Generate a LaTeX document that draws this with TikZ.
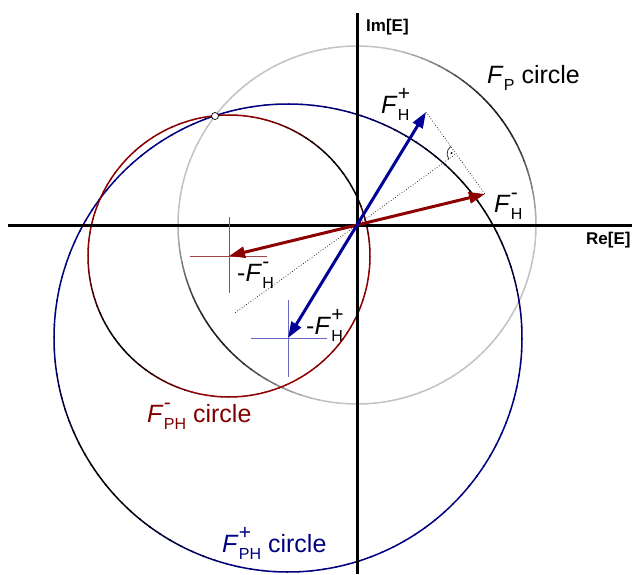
\documentclass[tikz,border=0pt]{standalone}
\usepackage{fontspec}
\setmainfont{Liberation Sans}
\usetikzlibrary{arrows.meta,calc}
\definecolor{navyc}{RGB}{0,0,128}
\definecolor{vblue}{RGB}{0,0,150}
\definecolor{vred}{RGB}{140,0,0}
\definecolor{redc}{RGB}{128,0,0}
\definecolor{circred}{RGB}{140,0,0}
\definecolor{lgray}{RGB}{195,195,195}
\definecolor{dgray}{RGB}{25,25,25}
\definecolor{crossred}{RGB}{165,70,70}
\definecolor{crossblue}{RGB}{105,105,195}
\newcommand{\Fsym}[2]{\textit{F}\kern0.3pt\makebox[0pt][l]{\raisebox{0.5em}{\fontsize{21}{21}\selectfont #1}}\raisebox{-0.3em}{\fontsize{16}{16}\selectfont #2}}
\newcommand{\gradcircle}[4]{%
  \foreach \a in {0,3,...,357}{%
    \pgfmathtruncatemacro\p{100*(max(0,cos(2*(\a+1.5-322))))^2}%
    \draw[circline, draw=#4!\p!#3] ($(#1)+(\a:#2)$) arc[start angle=\a, end angle=\a+3.4, radius=#2];
  }}
\begin{document}
\begin{tikzpicture}[x=1pt,y=-1pt,
  circline/.style={line width=1.5pt},
  axis/.style={line width=3pt,black},
  vecb/.style={line width=3pt,vblue,-{Triangle[length=16pt,width=11pt]}},
  vecr/.style={line width=3pt,vred,-{Triangle[length=16pt,width=11pt]}},
  helper/.style={dotted,line width=0.7pt,black},
  lbl/.style={anchor=base west,inner sep=0pt,font=\fontsize{25}{30}\selectfont},
  axlbl/.style={anchor=base west,inner sep=0pt,font=\bfseries\fontsize{17}{20}\selectfont},
  crossr/.style={line width=1pt,crossred},
  crossb/.style={line width=1pt,crossblue}]
\useasboundingbox (0,0) rectangle (632,574);
% key points
\coordinate (O) at (357,225);
\coordinate (Tp) at (426,112);
\coordinate (Tm) at (485,194);
\coordinate (Mp) at ($(O)!-1!(Tp)$);
\coordinate (Mm) at ($(O)!-1!(Tm)$);
\coordinate (Ft) at ($(Tp)!(O)!(Tm)$);
\coordinate (De) at ($(O)!-1.23!(Ft)$);
% circles
\gradcircle{O}{179}{lgray}{dgray}
\gradcircle{Mp}{234}{navyc}{black}
\gradcircle{Mm}{141}{circred}{black}
% axes
\coordinate (axL) at (8,225);
\coordinate (axR) at (632,225);
\coordinate (axT) at (357,13);
\coordinate (axB) at (357,574);
\draw[axis] (axL) -- (axR);
\draw[axis] (axT) -- (axB);
% crosses
\coordinate (cr1) at ($(Mm)+(-39,0)$); \coordinate (cr2) at ($(Mm)+(38,0)$);
\coordinate (cr3) at ($(Mm)+(0,-39)$); \coordinate (cr4) at ($(Mm)+(0,37)$);
\draw[crossr] (cr1) -- (cr2);
\draw[crossr] (cr3) -- (cr4);
\coordinate (cb1) at ($(Mp)+(-37,0)$); \coordinate (cb2) at ($(Mp)+(39,0)$);
\coordinate (cb3) at ($(Mp)+(0,-38)$); \coordinate (cb4) at ($(Mp)+(0,39)$);
\draw[crossb] (cb1) -- (cb2);
\draw[crossb] (cb3) -- (cb4);
% helper lines
\draw[helper] (Tp) -- (Tm);
\draw[helper] (De) -- (Ft);
% right-angle mark
\draw[line width=0.6pt] ($(Ft)+(144.4:9)$) arc[start angle=144.4, end angle=234.5, radius=9];
\fill ($(Ft)+(189.5:4.5)$) circle[radius=1.1pt];
% vectors
\draw[vecr] (O) -- (Tm);
\draw[vecr] (O) -- (Mm);
\draw[vecb] (O) -- (Tp);
\draw[vecb] (O) -- (Mp);
% intersection point
\node[circle,draw,fill=white,inner sep=0pt,minimum size=7pt,line width=0.7pt] (X) at (215,116) {};
% labels
\node[axlbl] (im) at (366,31) {Im[E]};
\node[axlbl] (re) at (586,244) {Re[E]};
\node[lbl] (fp) at (487,83) {\Fsym{}{P} circle};
\node[lbl] (fhp) at (381,113) {\Fsym{+}{H}};
\node[lbl] (fhm) at (494,212) {\Fsym{-}{H}};
\node[lbl] (mfhm) at (237,281) {-\Fsym{-}{H}};
\node[lbl] (mfhp) at (306,334) {-\Fsym{+}{H}};
\node[lbl,text=redc] (fphm) at (147,422) {\Fsym{-}{PH} circle};
\node[lbl,text=navyc] (fphp) at (222,552) {\Fsym{+}{PH} circle};
\end{tikzpicture}
\end{document}
